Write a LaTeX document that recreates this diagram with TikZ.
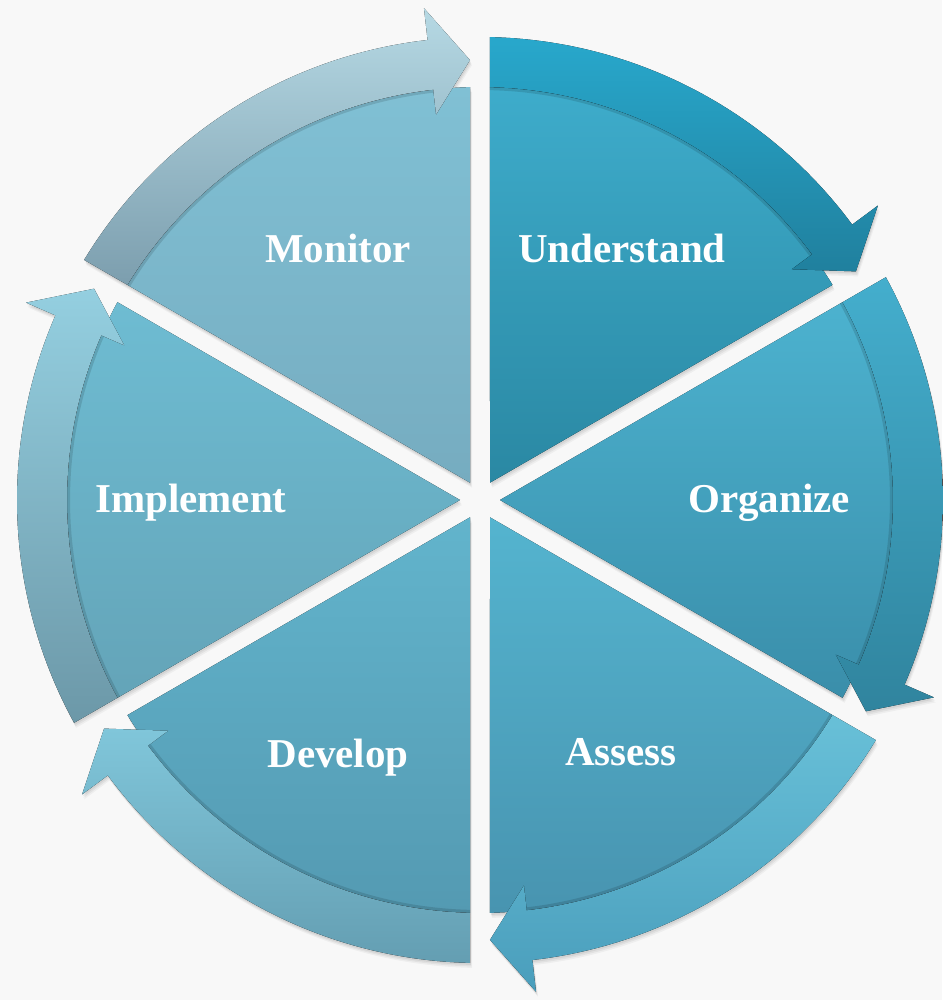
\documentclass[tikz,border=0pt]{standalone}
\usepackage{fontspec}
\setmainfont{Liberation Serif}
\usetikzlibrary{calc}

\definecolor{bg}{RGB}{248,248,248}
% body (A = top, B = bottom) and arrow band (C = top, D = bottom) per segment
\definecolor{undA}{RGB}{62,172,203}  \definecolor{undB}{RGB}{42,136,163}
\definecolor{undC}{RGB}{40,168,204}  \definecolor{undD}{RGB}{32,128,158}
\definecolor{orgA}{RGB}{76,178,207}  \definecolor{orgB}{RGB}{58,142,170}
\definecolor{orgC}{RGB}{68,174,205}  \definecolor{orgD}{RGB}{48,132,158}
\definecolor{assA}{RGB}{84,180,207}  \definecolor{assB}{RGB}{72,148,176}
\definecolor{assC}{RGB}{104,192,216} \definecolor{assD}{RGB}{74,158,188}
\definecolor{devA}{RGB}{98,180,204}  \definecolor{devB}{RGB}{84,154,178}
\definecolor{devC}{RGB}{128,198,218} \definecolor{devD}{RGB}{100,158,178}
\definecolor{impA}{RGB}{110,188,210} \definecolor{impB}{RGB}{100,164,184}
\definecolor{impC}{RGB}{148,207,224} \definecolor{impD}{RGB}{108,152,168}
\definecolor{monA}{RGB}{128,192,212} \definecolor{monB}{RGB}{118,172,192}
\definecolor{monC}{RGB}{182,217,228} \definecolor{monD}{RGB}{124,158,174}

\begin{document}
\begin{tikzpicture}[x=1pt,y=1pt,
  segtext/.style={font=\bfseries\fontsize{41}{41}\selectfont, text=white,
    anchor=base, inner sep=0pt}]

\fill[bg] (-480,-500) rectangle (462,500);
\useasboundingbox (-480,-500) rectangle (462,500);

% radii: outer rim, inner rim of the arrow band, band centre line, head barbs
\def\Ro{463}\def\Ri{413}\def\Rm{440}\def\Rbo{495}\def\Rbi{388}\def\gap{10}

\foreach \a/\nm in {90/und, 30/org, -30/ass, -90/dev, -150/imp, 150/mon} {
  \pgfmathsetmacro\b{\a-60}
  \pgfmathsetmacro\ta{\a-asin(\gap/\Ro)}
  \pgfmathsetmacro\tb{\a-asin(\gap/\Ri)}
  \pgfmathsetmacro\hb{\b+6.5}
  \pgfmathsetmacro\tip{\b+asin(\gap/\Rm)}
  \pgfmathsetmacro\bi{\b+asin(\gap/\Ri)}
  \pgfmathsetmacro\md{\a-30}
  % soft drop shadow
  \foreach \s/\o in {5/0.04,3.5/0.05,2/0.06} {
    \fill[black, opacity=\o, shift={(\s*0.4,-\s)}]
      (\md:20) -- (\tb:\Ri) arc[start angle=\tb, end angle=\bi, radius=\Ri] -- cycle;
    \fill[black, opacity=\o, shift={(\s*0.4,-\s)}]
      (\ta:\Ro) arc[start angle=\ta, end angle=\hb, radius=\Ro]
      -- (\hb:\Rbo) -- (\tip:\Rm) -- (\hb:\Rbi) -- (\hb:\Ri)
      arc[start angle=\hb, end angle=\tb, radius=\Ri] -- cycle;
  }
  % segment body
  \fill[top color=\nm A, bottom color=\nm B]
    (\md:20) -- (\tb:\Ri) arc[start angle=\tb, end angle=\bi, radius=\Ri] -- cycle;
  % shadow of the band on the body
  \draw[black, opacity=0.12, line width=3pt]
    (\tb:\Ri-1.5) arc[start angle=\tb, end angle=\hb, radius=\Ri-1.5];
  % curved arrow band
  \fill[top color=\nm C, bottom color=\nm D]
    (\ta:\Ro) arc[start angle=\ta, end angle=\hb, radius=\Ro]
    -- (\hb:\Rbo) -- (\tip:\Rm) -- (\hb:\Rbi) -- (\hb:\Ri)
    arc[start angle=\hb, end angle=\tb, radius=\Ri] -- cycle;
}

% labels
\foreach \nm/\x/\y/\lbl in {und/142/237/Understand, org/289/-13/Organize,
    ass/141/-265/Assess, dev/-142/-267/Develop, imp/-289/-13/Implement,
    mon/-142/237/Monitor} {
  \node[segtext] (\nm) at (\x,\y) {\lbl};
}
\end{tikzpicture}
\end{document}
